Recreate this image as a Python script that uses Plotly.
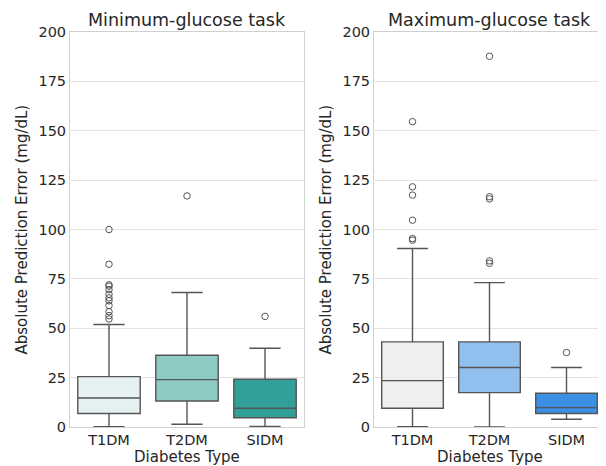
import plotly.graph_objects as go

categories = ["T1DM", "T2DM", "SIDM"]

# Minimum-glucose task box statistics
min_q1 = [6.8, 13.2, 4.7]
min_median = [14.7, 24.0, 9.5]
min_q3 = [25.5, 36.3, 24.2]
min_low = [0.2, 1.4, 0.3]
min_high = [51.9, 68.1, 39.9]
min_outliers = {
    "T1DM": [54.7, 56.4, 58.4, 61.5, 63.9, 65.4, 67.2, 69.6, 71.3, 72.0, 82.4, 100.0],
    "T2DM": [117.0],
    "SIDM": [56.0],
}
min_colors = ["#e6f2f1", "#8ecac4", "#30a099"]

# Maximum-glucose task box statistics
max_q1 = [9.5, 17.4, 6.8]
max_median = [23.5, 30.1, 9.8]
max_q3 = [43.1, 43.1, 17.1]
max_low = [0.2, 0.0, 3.9]
max_high = [90.4, 73.1, 30.1]
max_outliers = {
    "T1DM": [94.6, 95.4, 104.7, 117.4, 121.6, 154.6],
    "T2DM": [82.9, 84.1, 115.5, 116.6, 187.7],
    "SIDM": [37.7],
}
max_colors = ["#eeeff1", "#91bfee", "#3b8fe4"]

yticks = [0, 25, 50, 75, 100, 125, 150, 175, 200]
titles = ["Minimum-glucose task", "Maximum-glucose task"]
xlabel = "Diabetes Type"
ylabel = "Absolute Prediction Error (mg/dL)"

LINE = "#555555"
TEXT = "#262626"
FONT = "DejaVu Sans"

fig = go.Figure()

def add_panel(xa, ya, q1, med, q3, low, high, outl, colors):
    for i, c in enumerate(categories):
        fig.add_trace(go.Box(
            x=[c], q1=[q1[i]], median=[med[i]], q3=[q3[i]],
            lowerfence=[low[i]], upperfence=[high[i]],
            boxpoints=False, width=0.8, whiskerwidth=0.5,
            fillcolor=colors[i], line=dict(color=LINE, width=1.4),
            xaxis=xa, yaxis=ya, showlegend=False, hoverinfo="skip",
        ))
        pts = outl[c]
        fig.add_trace(go.Scatter(
            x=[c] * len(pts), y=pts, mode="markers",
            marker=dict(symbol="circle-open", size=6.5, color=LINE, line=dict(width=1)),
            xaxis=xa, yaxis=ya, showlegend=False, hoverinfo="skip",
        ))

add_panel("x", "y", min_q1, min_median, min_q3, min_low, min_high, min_outliers, min_colors)
add_panel("x2", "y2", max_q1, max_median, max_q3, max_low, max_high, max_outliers, max_colors)

# the page body adds an 8px margin, so the figure is laid out in page pixels minus 8
OX, OY = 8, 8
W, H = 606 - OX, 466 - OY

def px(x):
    return (x - OX) / W

def py(y):
    return 1 - (y - OY) / H

xd1 = [px(70), px(304)]
xd2 = [px(374), px(605)]
yd = [py(427), py(32)]

axis_common = dict(
    showline=True, linecolor="#d0d0d0", linewidth=1, mirror=True,
    tickfont=dict(family=FONT, size=14.5, color=TEXT),
    ticks="", zeroline=False, automargin=False,
)
xcommon = dict(type="category", categoryorder="array", categoryarray=categories,
               range=[-0.5, 2.5], showgrid=False, **axis_common)
ycommon = dict(range=[0, 200], tickvals=yticks, showgrid=True,
               gridcolor="#e3e3e3", gridwidth=1, **axis_common)

def ann(text, x, y, size, angle=0):
    return dict(text=text, x=px(x), y=py(y), xref="paper", yref="paper",
                xanchor="center", yanchor="middle", textangle=angle, showarrow=False,
                font=dict(family=FONT, size=size, color=TEXT))

fig.update_layout(
    width=W, height=H,
    template="none",
    margin=dict(l=0, r=0, t=0, b=0),
    paper_bgcolor="white", plot_bgcolor="white",
    boxmode="overlay",
    font=dict(family=FONT, color=TEXT),
    xaxis=dict(domain=xd1, anchor="y", **xcommon),
    yaxis=dict(domain=yd, anchor="x", **ycommon),
    xaxis2=dict(domain=xd2, anchor="y2", **xcommon),
    yaxis2=dict(domain=yd, anchor="x2", **ycommon),
    annotations=[
        ann(titles[0], 187, 20, 17.5),
        ann(titles[1], 489.5, 20, 17.5),
        ann(xlabel, 187, 457, 15),
        ann(xlabel, 489.5, 457, 15),
        ann(ylabel, 22, 229.5, 15, angle=-90),
        ann(ylabel, 326, 229.5, 15, angle=-90),
    ],
)

fig.write_html("out.html")
